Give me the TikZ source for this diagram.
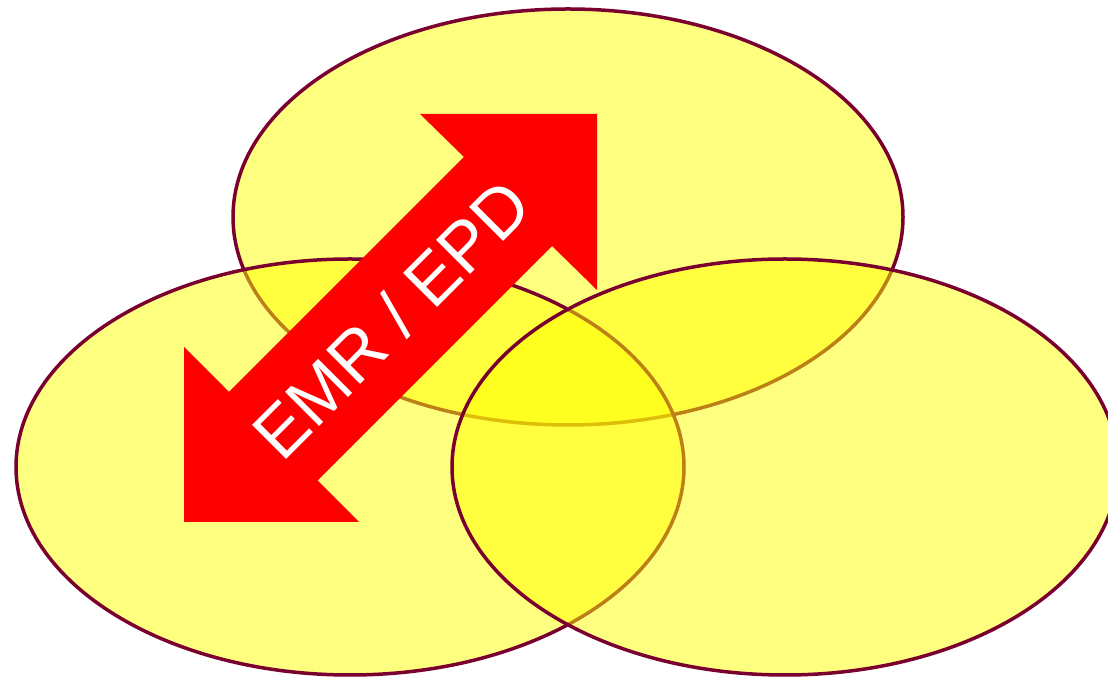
\documentclass[tikz,border=0pt]{standalone}
\usepackage{fontspec}
\newfontfamily\arrowfont{Liberation Sans}
\usepackage{xcolor}
\definecolor{rimred}{RGB}{122,0,48}
\definecolor{setyellow}{RGB}{255,255,0}
\definecolor{arrowred}{RGB}{255,0,0}
\usepackage{tikz}
\tikzset{
  setfill/.style={fill=setyellow,fill opacity=0.5,draw=rimred,draw opacity=1,line width=3.5pt},
  arrowlabel/.style={text=white,font=\arrowfont\fontsize{70}{84}\selectfont,rotate=45,inner sep=0pt}
}

\begin{document}
\begin{tikzpicture}[x=1pt,y=1pt]
\useasboundingbox (0,0) rectangle (1108,677);
% three sets
\path[setfill] (568,460) ellipse [x radius=335,y radius=208];
\path[setfill] (350,210) ellipse [x radius=334,y radius=208];
\path[setfill] (785,210) ellipse [x radius=333,y radius=208];
% double arrow
\fill[arrowred] (597,563) -- (420,563) -- (464,520) -- (229,285) -- (184,330)
  -- (184,155) -- (359,155) -- (317.5,196.5) -- (552,431) -- (597,387) -- cycle;
\node[arrowlabel] (emr) at (391.5,358) {EMR / EPD};
\end{tikzpicture}
\end{document}
